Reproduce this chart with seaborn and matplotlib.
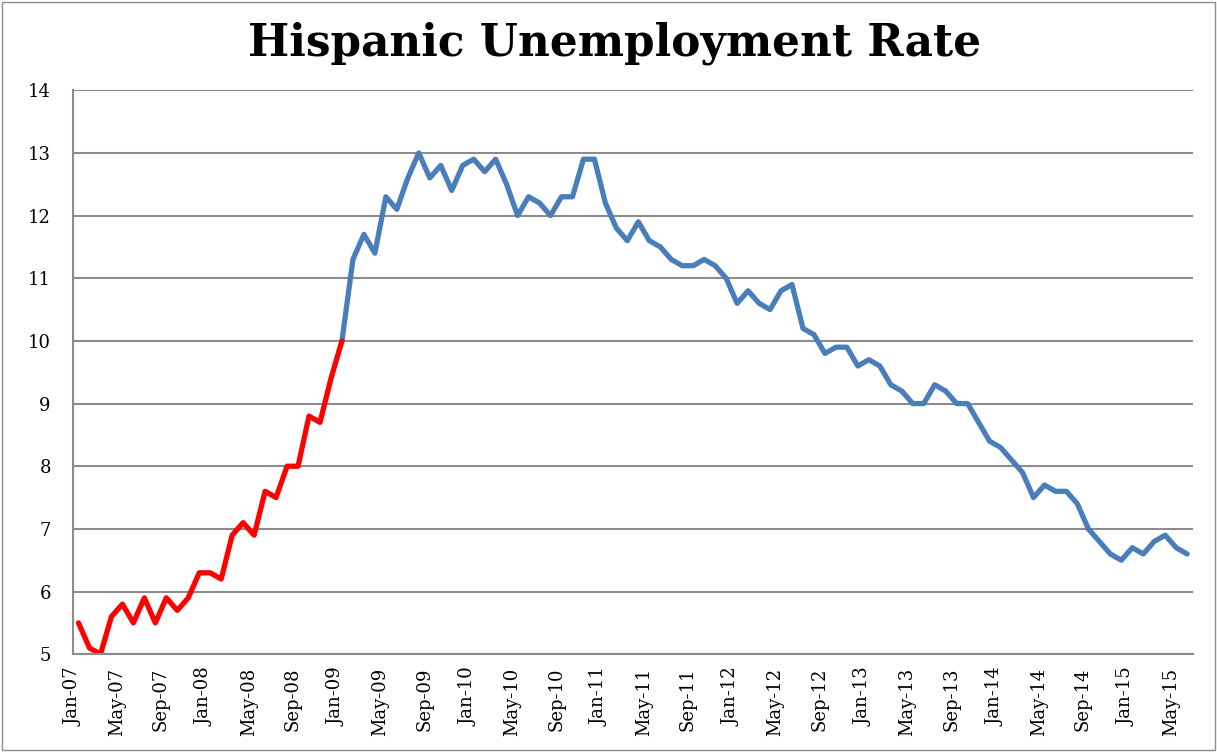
import numpy as np
import pandas as pd
import matplotlib
matplotlib.use('Agg')
import matplotlib.pyplot as plt
from matplotlib.patches import Rectangle
import seaborn as sns

# Monthly Hispanic unemployment rate, Jan-07 .. Jun-15
start_month = '2007-01'
rate = [5.5, 5.1, 5.0, 5.6, 5.8, 5.5, 5.9, 5.5, 5.9, 5.7, 5.9, 6.3,
        6.3, 6.2, 6.9, 7.1, 6.9, 7.6, 7.5, 8.0, 8.0, 8.8, 8.7, 9.4,
        10.0, 11.3, 11.7, 11.4, 12.3, 12.1, 12.6, 13.0, 12.6, 12.8, 12.4, 12.8,
        12.9, 12.7, 12.9, 12.5, 12.0, 12.3, 12.2, 12.0, 12.3, 12.3, 12.9, 12.9,
        12.2, 11.8, 11.6, 11.9, 11.6, 11.5, 11.3, 11.2, 11.2, 11.3, 11.2, 11.0,
        10.6, 10.8, 10.6, 10.5, 10.8, 10.9, 10.2, 10.1, 9.8, 9.9, 9.9, 9.6,
        9.7, 9.6, 9.3, 9.2, 9.0, 9.0, 9.3, 9.2, 9.0, 9.0, 8.7, 8.4,
        8.3, 8.1, 7.9, 7.5, 7.7, 7.6, 7.6, 7.4, 7.0, 6.8, 6.6, 6.5,
        6.7, 6.6, 6.8, 6.9, 6.7, 6.6]
red_until = 24  # index of Jan-09, where the red part ends

months = pd.date_range(start_month, periods=len(rate), freq='MS')
tick_labels = list(months[::4].strftime('%b-%y'))

df = pd.DataFrame({'month': np.arange(len(rate)) + 0.5, 'rate': rate})
red_part = df.iloc[:red_until + 1]
blue_part = df.iloc[red_until:]

sns.set_style('white')
plt.rcParams['font.family'] = ['DejaVu Serif']
plt.rcParams['text.color'] = 'black'

fig = plt.figure(figsize=(12.17, 7.52), dpi=100)
ax = fig.add_axes([0.060, 0.130, 0.920, 0.750])

sns.lineplot(data=blue_part, x='month', y='rate', color='#4a7ebb', lw=3.8, ax=ax)
sns.lineplot(data=red_part, x='month', y='rate', color='#ff0000', lw=3.8, ax=ax)

ax.set_xlim(0, len(rate))
ax.set_ylim(5, 14)
ax.set_yticks(range(5, 15))
ax.set_xticks(np.arange(0, len(rate), 4))
ax.set_xticklabels(tick_labels, rotation=90)
ax.set_xlabel('')
ax.set_ylabel('')

ax.grid(axis='y', color='#8c8c8c', lw=1.5)
ax.set_axisbelow(True)
for side in ['top', 'right']:
    ax.spines[side].set_visible(False)
for side in ['left', 'bottom']:
    ax.spines[side].set_color('#8c8c8c')
    ax.spines[side].set_linewidth(1.5)
ax.tick_params(axis='both', direction='out', length=6, width=1.2, color='#8c8c8c',
               labelsize=13, labelcolor='black')
ax.tick_params(axis='y', pad=10)

fig.text(0.505, 0.942, 'Hispanic Unemployment Rate', ha='center', va='center',
         fontsize=31.5, fontweight='bold', color='black')

fig.patches.append(Rectangle((0.002, 0.002), 0.996, 0.996, transform=fig.transFigure,
                             fill=False, edgecolor='#8c8c8c', lw=1))

fig.savefig('out.png', dpi=100)
